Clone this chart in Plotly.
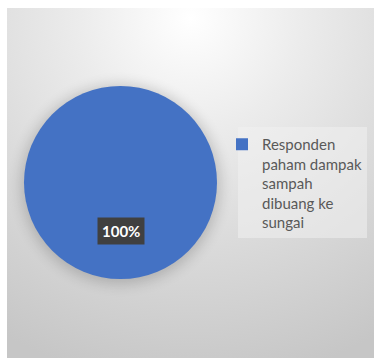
import base64
import plotly.graph_objects as go

# ---- data ----
labels = ["Responden<br>paham dampak<br>sampah<br>dibuang ke<br>sungai"]
values = [100]
colors = ["#4472C4"]

W, H = 374, 358
panel = (7, 8, 374, 358)          # x0, y0, x1, y1 in px
pie_dom_px = (24, 86, 217, 279)   # x0, y0, x1, y1 in px

def fx(px):
    return px / W

def fy(py):
    return 1 - py / H

pw, ph = panel[2] - panel[0], panel[3] - panel[1]
cx = (pie_dom_px[0] + pie_dom_px[2]) / 2 - panel[0]
cy = (pie_dom_px[1] + pie_dom_px[3]) / 2 - panel[1]
r = (pie_dom_px[2] - pie_dom_px[0]) / 2

svg = f'''<svg xmlns="http://www.w3.org/2000/svg" width="{pw}" height="{ph}" viewBox="0 0 {pw} {ph}">
<defs>
<radialGradient id="g" gradientUnits="userSpaceOnUse" cx="{pw*0.5}" cy="10" r="{ph*1.05}">
<stop offset="0" stop-color="#ffffff"/>
<stop offset="0.3" stop-color="#ececec"/>
<stop offset="0.7" stop-color="#d6d6d6"/>
<stop offset="1" stop-color="#c6c6c6"/>
</radialGradient>
<filter id="b" x="-50%" y="-50%" width="200%" height="200%"><feGaussianBlur stdDeviation="7"/></filter>
</defs>
<rect width="{pw}" height="{ph}" fill="url(#g)"/>
<circle cx="{cx}" cy="{cy+2}" r="{r+3}" fill="#000" opacity="0.18" filter="url(#b)"/>
</svg>'''
src = "data:image/svg+xml;base64," + base64.b64encode(svg.encode()).decode()

fig = go.Figure(go.Pie(
    labels=labels, values=values,
    marker=dict(colors=colors, line=dict(width=0)),
    textinfo="none", sort=False, hoverinfo="skip",
    domain=dict(x=[fx(pie_dom_px[0]), fx(pie_dom_px[2])],
                y=[fy(pie_dom_px[3]), fy(pie_dom_px[1])]),
))

total = sum(values)
fig.add_annotation(
    x=fx(121), y=fy(231), xref="paper", yref="paper",
    xanchor="center", yanchor="middle",
    text=f"<b>{values[0]/total*100:.0f}%</b>", showarrow=False,
    font=dict(family="Lato", size=15, color="white"),
    bgcolor="#404040", borderpad=4,
)

fig.add_shape(type="rect", xref="paper", yref="paper", layer="below",
              x0=fx(238), x1=fx(367), y0=fy(238), y1=fy(127),
              fillcolor="rgba(240,240,240,0.55)", line=dict(width=0))

fig.update_layout(
    width=W, height=H, margin=dict(l=0, r=0, t=0, b=0),
    paper_bgcolor="white", plot_bgcolor="rgba(0,0,0,0)",
    images=[dict(source=src, xref="paper", yref="paper",
                 x=fx(panel[0]), y=fy(panel[1]), sizex=pw / W, sizey=ph / H,
                 xanchor="left", yanchor="top", sizing="stretch", layer="below")],
    showlegend=True,
    legend=dict(x=fx(222), y=fy(128), xanchor="left", yanchor="top",
                valign="top", bgcolor="rgba(0,0,0,0)",
                font=dict(family="Lato", size=15, color="#595959")),
)

fig.write_html("out.html")
